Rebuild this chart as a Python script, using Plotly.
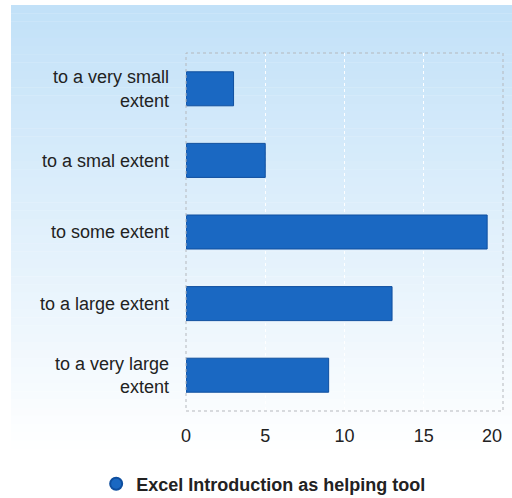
import plotly.graph_objects as go

# data
categories = [
    "to a very small<br>extent",
    "to a smal extent",
    "to some extent",
    "to a large extent",
    "to a very large<br>extent",
]
values = [3, 5, 19, 13, 9]
series_name = "Excel Introduction as helping tool"
x_ticks = [0, 5, 10, 15, 20]

W, H = 512, 498
L, R, T, B = 186, 9, 53, 87
pw, ph = W - L - R, H - T - B

FONT = "Liberation Sans, Arial"
TXT = "#222"

fig = go.Figure()
fig.add_trace(go.Bar(
    y=categories, x=values, orientation="h", width=0.475,
    marker=dict(color="#1a68c2", line=dict(color="#0f4f9f", width=1)),
    showlegend=False, hoverinfo="x+y",
))
# legend entry drawn as a round marker like the original
fig.add_trace(go.Scatter(
    x=[None], y=[None], mode="markers", name=series_name,
    marker=dict(symbol="circle", size=18, color="#1a68c2", line=dict(color="#0f4f9f", width=1)),
))

# vertical background gradient (light blue at top to white at bottom)
def px_x(p):
    return (p - L) / pw

def px_y(p):
    return 1 - (p - T) / ph

top_rgb = (194, 225, 248)
bot_rgb = (255, 255, 255)
y0_px, y1_px = 5, H
n = 60
shapes = []
for i in range(n):
    a = y0_px + (y1_px - y0_px) * i / n
    b = y0_px + (y1_px - y0_px) * (i + 1) / n
    t = min(1.0, (i / (n - 1)) * 1.1)
    c = tuple(round(top_rgb[k] + (bot_rgb[k] - top_rgb[k]) * t) for k in range(3))
    shapes.append(dict(
        type="rect", xref="paper", yref="paper", layer="below",
        x0=px_x(11), x1=px_x(W), y0=px_y(b) - 0.001, y1=px_y(a),
        fillcolor=f"rgb{c}", line=dict(width=0),
    ))
shapes.append(dict(
    type="rect", xref="paper", yref="paper", layer="above",
    x0=0, x1=1, y0=0, y1=1, line=dict(color="#b5b8bd", width=1, dash="dot"),
))
fig.update_layout(shapes=shapes)

# last tick label sits flush with the right edge, as Excel does it
tick_text = [str(v) for v in x_ticks[:-1]] + [""]
fig.add_annotation(
    x=x_ticks[-1], y=0, xref="x", yref="paper", text=str(x_ticks[-1]),
    showarrow=False, xanchor="right", yanchor="top", yshift=-13, xshift=1,
    font=dict(size=18, color=TXT, family=FONT),
)

fig.update_xaxes(
    range=[0, 20], tickvals=x_ticks, ticktext=tick_text, showgrid=True,
    gridcolor="rgba(255,255,255,0.95)", griddash="dot", gridwidth=1,
    zeroline=False, showline=False,
    tickfont=dict(size=18, color=TXT, family=FONT),
    ticklabelstandoff=12, fixedrange=True,
)
fig.update_yaxes(
    categoryorder="array", categoryarray=categories[::-1], autorange=False,
    range=[-0.5, 4.5], showgrid=False, zeroline=False, showline=False,
    tickfont=dict(size=18, color=TXT, family=FONT),
    ticklabelstandoff=16, fixedrange=True,
)
fig.update_layout(
    width=W, height=H,
    margin=dict(l=L, r=R, t=T, b=B, autoexpand=False),
    paper_bgcolor="white", plot_bgcolor="rgba(0,0,0,0)",
    bargap=0.5,
    legend=dict(
        orientation="h", x=0.245, xanchor="center", y=-0.204, yanchor="middle",
        font=dict(size=18, color=TXT, family=FONT, weight="bold"),
        bgcolor="rgba(0,0,0,0)", itemsizing="constant",
    ),
)
fig.write_html(
    "out.html",
    config={"displayModeBar": False},
    post_script="document.body.style.margin='0';",
)
